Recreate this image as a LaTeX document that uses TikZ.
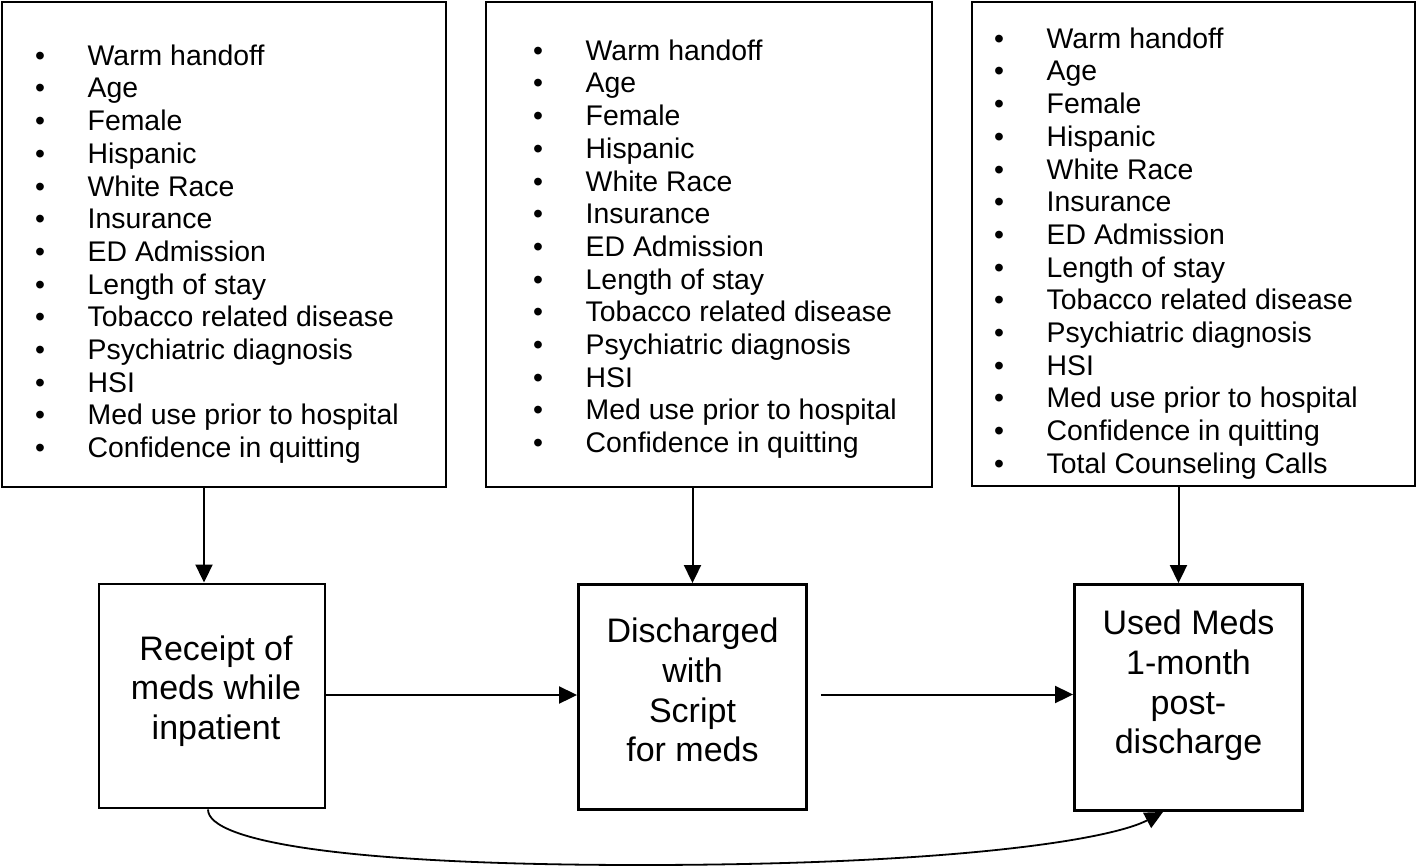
\documentclass[tikz,border=0pt]{standalone}
\usepackage{fontspec}
\setmainfont{Liberation Sans}
\usetikzlibrary{arrows.meta}
\newcommand{\myli}[1]{\makebox[10pt][c]{\textbullet}\hspace{42.5pt}#1}
\newcommand{\dropfix}[1]{\rule[-#1]{0pt}{#1}}
\begin{document}
\begin{tikzpicture}[x=1pt,y=-1pt,
  topbox/.style={draw, line width=2.9pt, inner sep=0pt},
  listtext/.style={anchor=north west, inner sep=0pt, align=left, font=\fontsize{28.4}{32.7}\selectfont},
  flowbox/.style={draw, line width=2.9pt, inner sep=0pt, align=center, font=\fontsize{34}{39.6}\selectfont},
  arr/.style={line width=2pt, -{Triangle[length=18pt,width=17pt]}},
  carr/.style={line width=1.8pt, -{Triangle[length=18pt,width=17pt]}}]
\useasboundingbox (0,0) rectangle (1418,867);

% top boxes
\node[topbox, minimum width=444pt, minimum height=485pt] (top1) at (224,244.5) {};
\node[topbox, minimum width=446pt, minimum height=485pt] (top2) at (709,244.5) {};
\node[topbox, minimum width=443pt, minimum height=484pt] (top3) at (1193.5,244) {};

\node[listtext] (list1) at (35,41) {\rule{0pt}{24pt}\myli{Warm handoff}\\ \myli{Age}\\ \myli{Female}\\ \myli{Hispanic}\\ \myli{White Race}\\ \myli{Insurance}\\ \myli{ED Admission}\\ \myli{Length of stay}\\ \myli{Tobacco related disease}\\ \myli{Psychiatric diagnosis}\\ \myli{HSI}\\ \myli{Med use prior to hospital}\\ \myli{Confidence in quitting}};

\node[listtext] (list2) at (533,36) {\rule{0pt}{24pt}\myli{Warm handoff}\\ \myli{Age}\\ \myli{Female}\\ \myli{Hispanic}\\ \myli{White Race}\\ \myli{Insurance}\\ \myli{ED Admission}\\ \myli{Length of stay}\\ \myli{Tobacco related disease}\\ \myli{Psychiatric diagnosis}\\ \myli{HSI}\\ \myli{Med use prior to hospital}\\ \myli{Confidence in quitting}};

\node[listtext] (list3) at (994,24) {\rule{0pt}{24pt}\myli{Warm handoff}\\ \myli{Age}\\ \myli{Female}\\ \myli{Hispanic}\\ \myli{White Race}\\ \myli{Insurance}\\ \myli{ED Admission}\\ \myli{Length of stay}\\ \myli{Tobacco related disease}\\ \myli{Psychiatric diagnosis}\\ \myli{HSI}\\ \myli{Med use prior to hospital}\\ \myli{Confidence in quitting}\\ \myli{Total Counseling Calls}};

% flow boxes
\node[flowbox, minimum width=226pt, minimum height=224pt] (A) at (212,696) {\hspace*{8pt}Receipt of\\\hspace*{8pt}meds while\\\hspace*{8pt}inpatient\dropfix{17pt}};
\node[flowbox, minimum width=228pt, minimum height=225pt] (B) at (692.5,697) {Discharged\\with\\Script\\for meds\dropfix{14pt}};
\node[flowbox, minimum width=228pt, minimum height=226pt] (C) at (1188.5,697.5) {Used Meds\\1-month\\post-\\discharge\dropfix{31pt}};

% connectors
\draw[arr] ([xshift=-20pt]top1.south) -- ([xshift=-20pt]top1.south |- A.north);
\draw[arr] (top2.south -| B.north) -- (B.north);
\draw[arr] ([xshift=-15pt]top3.south) -- ([xshift=-15pt]top3.south |- C.north);
\draw[arr] ([yshift=1pt]A.east) -- ([yshift=1pt]A.east -| B.west);
\draw[arr] ([xshift=13pt,yshift=2.5pt]B.east) -- ([yshift=2.5pt]B.east -| C.west);
\draw[carr] ([xshift=-4pt]A.south) .. controls (208,842) and (350,865) .. (640,865)
  .. controls (950,865) and (1110,840) .. ([xshift=-25.5pt]C.south);
\end{tikzpicture}
\end{document}
